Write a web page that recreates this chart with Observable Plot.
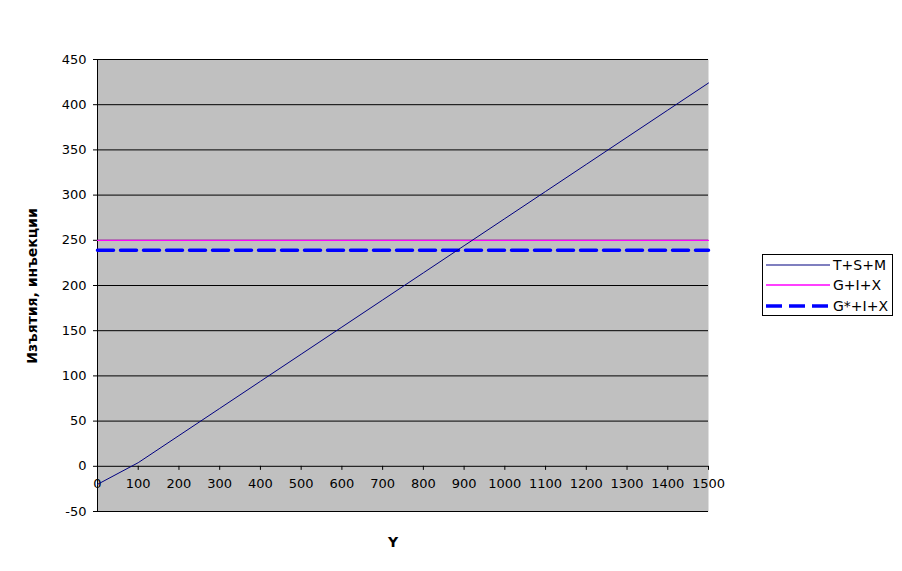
<!DOCTYPE html>
<html>
<head>
<meta charset="utf-8">
<script src="https://cdn.jsdelivr.net/npm/d3@7"></script>
<script src="https://cdn.jsdelivr.net/npm/@observablehq/plot@0.6"></script>
<style>
  html, body { margin: 0; padding: 0; background: #fff; }
  #wrap { position: relative; width: 902px; height: 571px; font-family: "DejaVu Sans", sans-serif; }
  #legend { position: absolute; left: 762px; top: 254px; width: 131px; height: 62px; border: 1px solid #000; box-sizing: border-box; background: #fff; font-size: 14px; }
  .item { position: absolute; left: 3px; height: 20px; display: flex; align-items: center; }
  .item svg { display: block; }
  .item span { margin-left: 3px; }
</style>
</head>
<body>
<div id="wrap"></div>
<script>
const xTicks = [0, 100, 200, 300, 400, 500, 600, 700, 800, 900, 1000, 1100, 1200, 1300, 1400, 1500];
const yTicks = [-50, 0, 50, 100, 150, 200, 250, 300, 350, 400, 450];
const yValues = [0, 100, 200, 300, 400, 500, 600, 700, 800, 900, 1000, 1100, 1200, 1300, 1400, 1500];
const tsm = [-20, 4, 34, 64, 94, 124, 154, 184, 214, 244, 274, 304, 334, 364, 394, 424];
const gix = 250;
const gStarIx = 239;
const seriesNames = ["T+S+M", "G+I+X", "G*+I+X"];
const seriesColors = ["#000080", "#FF00FF", "#0000FF"];

const tsmData = yValues.map((y, i) => ({yy: y, v: tsm[i]}));
const flatData = (v) => [{yy: 0, v}, {yy: 1500, v}];

const chart = Plot.plot({
  width: 902,
  height: 571,
  marginLeft: 97,
  marginRight: 194,
  marginTop: 59,
  marginBottom: 60,
  style: {fontFamily: "DejaVu Sans, sans-serif", fontSize: "13px", background: "transparent"},
  x: {type: "linear", domain: [0, 1500], axis: null},
  y: {type: "linear", domain: [-50, 450], axis: null},
  marks: [
    Plot.frame({fill: "#C0C0C0", stroke: null}),
    Plot.ruleY(yTicks, {y: d => d, stroke: "#000", strokeWidth: 1}),
    Plot.ruleX([0], {x: d => d, stroke: "#000", strokeWidth: 1}),
    Plot.ruleY(yTicks, {y: d => d, x1: () => 0, x2: () => 0, stroke: "#000", insetLeft: -4}),
    Plot.text(yTicks, {x: () => 0, y: d => d, text: d => String(d), textAnchor: "end", dx: -11, fill: "#000", fontSize: 13}),
    Plot.ruleX(xTicks, {x: d => d, y1: () => 0, y2: () => -4.5, stroke: "#000"}),
    Plot.text(xTicks, {x: d => d, y: () => 0, text: d => String(d), dy: 18, fill: "#000", fontSize: 13}),
    Plot.line(flatData(gix), {x: "yy", y: "v", stroke: seriesColors[1], strokeWidth: 1.3}),
    Plot.line(flatData(gStarIx), {x: "yy", y: "v", stroke: seriesColors[2], strokeWidth: 3.5, strokeDasharray: "16,7"}),
    Plot.line(tsmData, {x: "yy", y: "v", stroke: seriesColors[0], strokeWidth: 1})
  ]
});

const wrap = document.getElementById("wrap");
chart.style.position = "absolute";
chart.style.left = "0px";
chart.style.top = "0px";
wrap.appendChild(chart);

// axis titles
const yTitle = document.createElement("div");
yTitle.textContent = "Изъятия, инъекции";
Object.assign(yTitle.style, {position: "absolute", left: "32px", top: "286px", transform: "translate(-50%, -50%) rotate(-90deg)", fontWeight: "bold", fontSize: "14px", whiteSpace: "nowrap"});
wrap.appendChild(yTitle);
const xTitle = document.createElement("div");
xTitle.textContent = "Y";
Object.assign(xTitle.style, {position: "absolute", left: "393px", top: "542px", transform: "translate(-50%, -50%)", fontWeight: "bold", fontSize: "14px"});
wrap.appendChild(xTitle);

// legend
const legend = document.createElement("div");
legend.id = "legend";
const tops = [0, 20, 41];
const widths = [1.2, 1.5, 3.5];
seriesNames.forEach((name, i) => {
  const it = document.createElement("div");
  it.className = "item";
  it.style.top = tops[i] + "px";
  const dash = i === 2 ? ' stroke-dasharray="16,7"' : '';
  it.innerHTML = `<svg width="64" height="10"><line x1="0" x2="64" y1="5" y2="5" stroke="${seriesColors[i]}" stroke-width="${widths[i]}"${dash}/></svg><span>${name}</span>`;
  legend.appendChild(it);
});
wrap.appendChild(legend);
</script>
</body>
</html>
